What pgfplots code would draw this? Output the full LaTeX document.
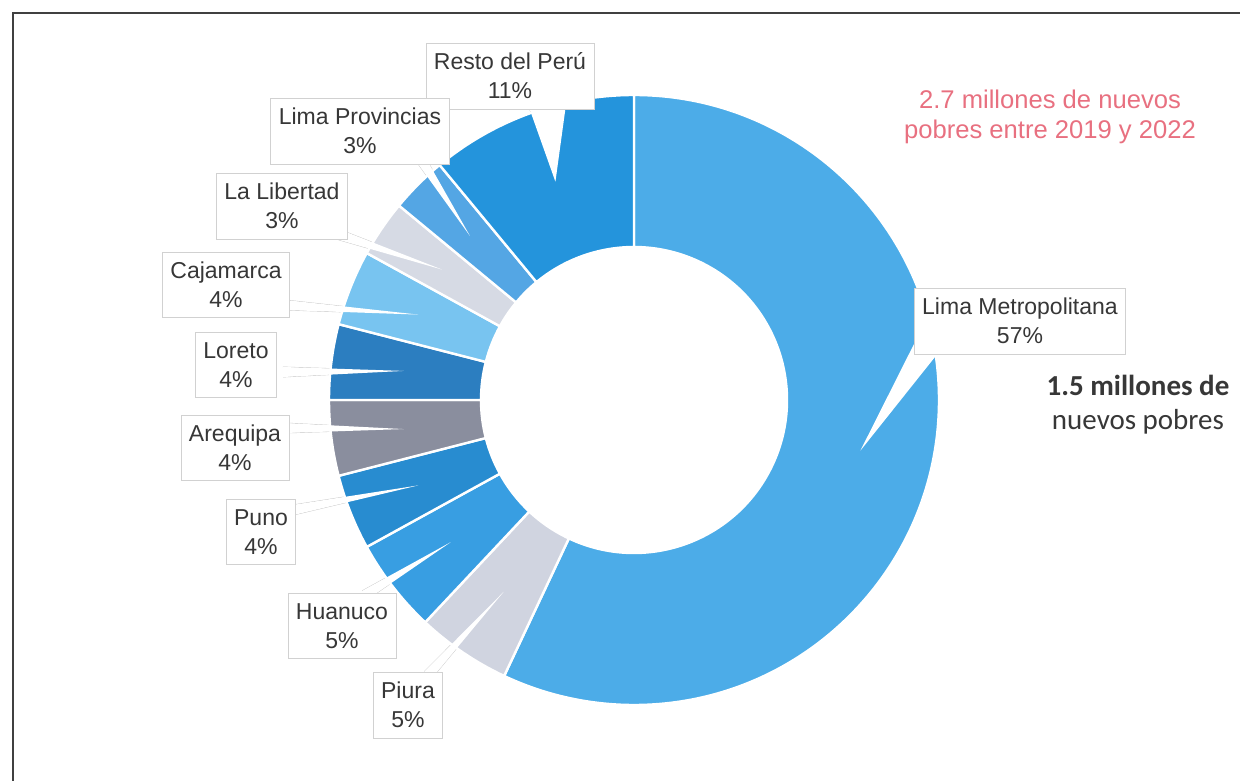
\documentclass[border=0pt]{standalone}
\usepackage{pgfplots}
\pgfplotsset{compat=1.18}
\usepackage{pgfplotstable}
\usepackage{fontspec}
\setmainfont{Liberation Sans}
\newfontfamily\carlito{Carlito}
\definecolor{c0}{RGB}{76,172,232}
\definecolor{c1}{RGB}{208,212,224}
\definecolor{c2}{RGB}{56,158,226}
\definecolor{c3}{RGB}{40,140,208}
\definecolor{c4}{RGB}{138,142,158}
\definecolor{c5}{RGB}{44,126,192}
\definecolor{c6}{RGB}{120,196,240}
\definecolor{c7}{RGB}{214,218,228}
\definecolor{c8}{RGB}{84,166,228}
\definecolor{c9}{RGB}{36,148,220}
\definecolor{txt}{RGB}{55,55,55}
\definecolor{pinkt}{RGB}{232,112,128}

% value = share (%), bx/by = callout base (px, y up), w = half-width of callout base
\pgfplotstableread{
value bx  by  w
57    928 436 13
5     428 106 5
5     365 186 5
4     293 271 5
4     285 353 5
4     283 409 5
4     285 476 5
3     340 546 5
3     420 623 5
11    547 681 20
}\slices

\newcommand\callout{%
  \pgfplotstablegetelem{\i}{value}\of\slices \let\v=\pgfplotsretval
  \pgfplotstablegetelem{\i}{bx}\of\slices \let\bx=\pgfplotsretval
  \pgfplotstablegetelem{\i}{by}\of\slices \let\by=\pgfplotsretval
  \pgfplotstablegetelem{\i}{w}\of\slices \let\w=\pgfplotsretval
  \pgfmathsetmacro\m{90-3.6*(\cum+\v/2)}%
  \pgfmathsetmacro\tx{634+232*cos(\m)}%
  \pgfmathsetmacro\ty{381+232*sin(\m)}%
  \pgfmathsetmacro\dx{(\tx-\bx)/100}%
  \pgfmathsetmacro\dy{(\ty-\by)/100}%
  \pgfmathsetmacro\L{sqrt(\dx*\dx+\dy*\dy)}%
  \pgfmathsetmacro\px{-\dy/\L*\w}%
  \pgfmathsetmacro\py{\dx/\L*\w}%
  \pgfmathsetmacro\ax{\bx+\px}\pgfmathsetmacro\ay{\by+\py}%
  \pgfmathsetmacro\cx{\bx-\px}\pgfmathsetmacro\cy{\by-\py}%
  \pgfmathsetmacro\newcum{\cum+\v}\xdef\cum{\newcum}%
}

\begin{document}
\begin{tikzpicture}
\begin{axis}[width=624.5pt,height=390.5pt,scale only axis,hide axis,
  xmin=0,xmax=1249,ymin=0,ymax=781,clip=false]
\path (axis cs:0,0) rectangle (axis cs:1249,781);
% frame
\draw[black!75,line width=0.8pt] (axis cs:13,0) -- (axis cs:13,768) -- (axis cs:1240,768);

% callout outlines (under the ring)
\gdef\cum{0}
\pgfplotsforeachungrouped \i in {0,...,9}{%
  \callout
  \edef\temp{\noexpand\draw[black!22,line width=0.4pt] (axis cs:\ax,\ay) -- (axis cs:\tx,\ty) -- (axis cs:\cx,\cy);}%
  \temp
}

% ring
\gdef\cum{0}
\pgfplotsforeachungrouped \i in {0,...,9}{%
  \pgfplotstablegetelem{\i}{value}\of\slices \let\v=\pgfplotsretval
  \pgfmathsetmacro\a{90-3.6*\cum}%
  \pgfmathsetmacro\b{90-3.6*(\cum+\v)}%
  \pgfmathsetmacro\newcum{\cum+\v}\xdef\cum{\newcum}%
  \edef\temp{\noexpand\fill[fill=c\i,draw=white,line width=1.2pt] ([shift={(\a:152.5pt)}]axis cs:634,381) arc[start angle=\a,end angle=\b,radius=152.5pt] -- ([shift={(\b:76.5pt)}]axis cs:634,381) arc[start angle=\b,end angle=\a,radius=76.5pt] -- cycle;}%
  \temp
}

% white callout wedges
\gdef\cum{0}
\pgfplotsforeachungrouped \i in {0,...,9}{%
  \callout
  \edef\temp{\noexpand\fill[white] (axis cs:\ax,\ay) -- (axis cs:\tx,\ty) -- (axis cs:\cx,\cy) -- cycle;}%
  \temp
}

% labels
\tikzset{lab/.style={draw=black!18,fill=white,align=center,text=txt,
  font=\fontsize{11.5}{14.5}\selectfont,inner xsep=4pt,inner ysep=5pt}}
\node[lab] at (axis cs:510,705) {Resto del Perú\\11\%};
\node[lab] at (axis cs:360,650) {Lima Provincias\\3\%};
\node[lab] at (axis cs:282,575) {La Libertad\\3\%};
\node[lab] at (axis cs:226,496) {Cajamarca\\4\%};
\node[lab] at (axis cs:236,416) {Loreto\\4\%};
\node[lab] at (axis cs:235,333) {Arequipa\\4\%};
\node[lab] at (axis cs:261,249) {Puno\\4\%};
\node[lab] at (axis cs:342,155) {Huanuco\\5\%};
\node[lab] at (axis cs:408,76) {Piura\\5\%};
\node[lab] at (axis cs:1020,460) {Lima Metropolitana\\57\%};

\node[align=center,text=pinkt,font=\fontsize{12.8}{15}\selectfont] at (axis cs:1050,664) {2.7 millones de nuevos\\pobres entre 2019 y 2022};
\node[align=center,text=txt,font=\carlito\fontsize{14.5}{17}\selectfont] at (axis cs:1138,376) {\textbf{1.5 millones de}\\nuevos pobres};
\end{axis}
\end{tikzpicture}
\end{document}
